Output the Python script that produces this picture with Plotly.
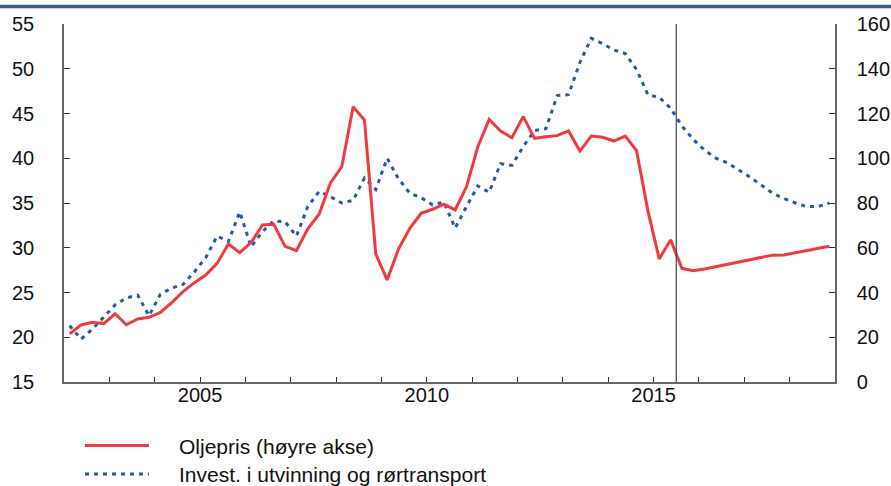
import plotly.graph_objects as go

# ---- data (quarterly, 2002K1 - 2018K4) ----
years = list(range(2002, 2019))
quarters = [f"{y}K{q}" for y in years for q in (1, 2, 3, 4)]

# Oil price, USD per barrel (right axis)
oljepris = [
    21.5, 25.5, 26.7, 26.1,
    30.5, 25.6, 28.2, 28.9,
    31.1, 35.5, 40.4, 44.4,
    47.8, 53.0, 61.7, 57.8,
    62.3, 70.2, 70.5, 60.6,
    58.7, 68.5, 75.0, 89.0,
    96.2, 123.0, 117.1, 57.2,
    45.6, 59.4, 68.7, 75.4,
    77.2, 79.5, 76.9, 87.3,
    105.2, 117.4, 112.2, 109.2,
    118.6, 108.9, 109.6, 110.1,
    112.2, 103.2, 109.9, 109.4,
    107.7, 109.9, 103.4, 76.5,
    55.0, 63.5, 50.8, 49.7,
    50.5, 51.5, 52.5, 53.5,
    54.5, 55.6, 56.7, 56.8,
    57.7, 58.7, 59.7, 60.7,
]

# Investment in extraction and pipeline transport (left axis)
invest = [
    21.3, 19.8, 20.9, 22.2,
    23.6, 24.4, 24.7, 22.4,
    24.8, 25.5, 25.9, 27.3,
    28.9, 31.3, 30.7, 34.0,
    30.1, 31.8, 33.0, 32.9,
    31.3, 34.6, 36.3, 35.7,
    35.0, 35.3, 37.8, 36.5,
    40.0, 37.7, 36.1, 35.6,
    34.8, 35.1, 32.2, 34.6,
    36.9, 36.2, 39.4, 39.2,
    41.3, 43.1, 43.3, 47.0,
    47.1, 50.7, 53.4, 52.8,
    52.1, 51.7, 49.9, 47.1,
    46.8, 45.6, 43.6, 42.1,
    40.9, 40.0, 39.5, 38.7,
    37.9, 37.0, 36.1, 35.5,
    35.0, 34.6, 34.6, 35.0,
]

forecast_start = 2015.5
x_tick_years = list(range(2002, 2020))
x_tick_labels = [str(y) if y in (2005, 2010, 2015) else "" for y in x_tick_years]
left_ticks = [15, 20, 25, 30, 35, 40, 45, 50, 55]
right_ticks = [0, 20, 40, 60, 80, 100, 120, 140, 160]

legend_names = ["Oljepris (høyre akse)", "Invest. i utvinning og rørtransport"]

# ---- styling ----
RED = "#ef3b3d"
BLUE = "#2459ab"
AXIS = "#666666"
FONT = "Liberation Sans, Arial, sans-serif"
DOT = "4px,5px"

# quarter midpoints on a decimal-year axis
xq = [int(s[:4]) + (int(s[-1]) - 1) / 4 + 0.125 for s in quarters]

fig = go.Figure()
fig.add_trace(go.Scatter(x=xq, y=invest, mode="lines", name=legend_names[1],
                         line=dict(color=BLUE, width=3, dash=DOT), yaxis="y"))
fig.add_trace(go.Scatter(x=xq, y=oljepris, mode="lines", name=legend_names[0],
                         line=dict(color=RED, width=3), yaxis="y2"))

W, H = 891, 486
L, R, T, B = 64, 56, 24, 104
pw, ph = W - L - R, H - T - B


def px(xp):
    return (xp - L) / pw


def py(yp):
    return (H - B - yp) / ph


shapes = [
    dict(type="line", xref="x", yref="paper", x0=forecast_start, x1=forecast_start,
         y0=0, y1=1, line=dict(color="#444444", width=1.2)),
    dict(type="line", xref="paper", yref="paper", x0=px(0), x1=px(W),
         y0=py(6.5), y1=py(6.5), line=dict(color="#3e5a8b", width=3.5)),
    dict(type="line", xref="paper", yref="paper", x0=px(85), x1=px(149),
         y0=py(445.5), y1=py(445.5), line=dict(color=RED, width=3)),
    dict(type="line", xref="paper", yref="paper", x0=px(85), x1=px(149),
         y0=py(474), y1=py(474), line=dict(color=BLUE, width=3, dash=DOT)),
]
annotations = [
    dict(xref="paper", yref="paper", x=px(177), y=py(446), text=legend_names[0],
         showarrow=False, xanchor="left", yanchor="middle",
         font=dict(family=FONT, size=21, color="#111111")),
    dict(xref="paper", yref="paper", x=px(177), y=py(474), text=legend_names[1],
         showarrow=False, xanchor="left", yanchor="middle",
         font=dict(family=FONT, size=21, color="#111111")),
]

fig.update_layout(
    width=W, height=H,
    margin=dict(l=L, r=R, t=T, b=B, pad=0, autoexpand=False),
    paper_bgcolor="white", plot_bgcolor="white",
    showlegend=False,
    font=dict(family=FONT, size=20, color="#111111"),
    xaxis=dict(range=[2002, 2019], tickmode="array", tickvals=x_tick_years,
               ticktext=x_tick_labels, ticks="inside", ticklen=5, tickwidth=1.2,
               tickcolor="#333333", showline=True, linecolor=AXIS, linewidth=1.5,
               showgrid=False, zeroline=False, ticklabelstandoff=-6,
               automargin=False, tickfont=dict(size=20)),
    yaxis=dict(range=[15, 55], tickmode="array", tickvals=left_ticks,
               ticks="inside", ticklen=6, tickwidth=1.2, tickcolor="#333333",
               showline=True, linecolor=AXIS, linewidth=1.5, showgrid=False,
               zeroline=False, ticklabelstandoff=24, automargin=False,
               tickfont=dict(size=20)),
    yaxis2=dict(range=[0, 160], tickmode="array", tickvals=right_ticks,
                overlaying="y", side="right", ticks="inside", ticklen=6,
                tickwidth=1.2, tickcolor="#333333", showline=True,
                linecolor=AXIS, linewidth=1.5, showgrid=False, zeroline=False,
                ticklabelstandoff=16, automargin=False, tickfont=dict(size=20)),
    shapes=shapes,
    annotations=annotations,
)

fig.write_html("out.html", config={"displayModeBar": False},
               post_script="document.body.style.margin='0';document.body.style.overflow='hidden';")
